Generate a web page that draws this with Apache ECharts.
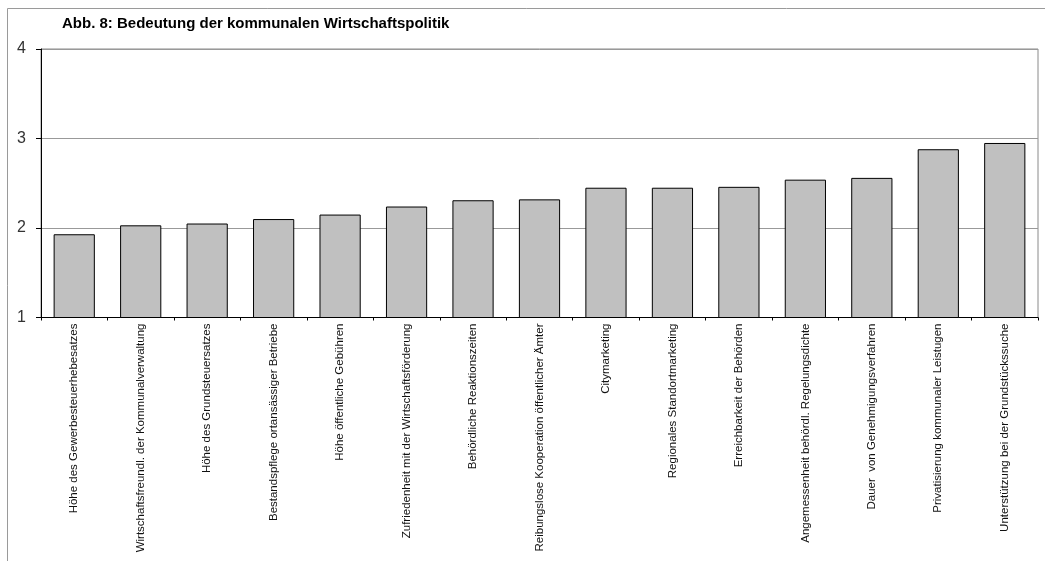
<!DOCTYPE html>
<html>
<head>
<meta charset="utf-8">
<script src="https://cdn.jsdelivr.net/npm/echarts@6/dist/echarts.min.js"></script>
<style>html,body{margin:0;padding:0;background:#fff}#c{width:1045px;height:561px}</style>
</head>
<body>
<div id="c"></div>
<script>
var titleText = 'Abb. 8: Bedeutung der kommunalen Wirtschaftspolitik';
var categories = [
  'Höhe des Gewerbesteuerhebesatzes',
  'Wirtschaftsfreundl. der Kommunalverwaltung',
  'Höhe des Grundsteuersatzes',
  'Bestandspflege ortansässiger Betriebe',
  'Höhe öffentliche Gebühren',
  'Zufriedenheit mit der Wirtschaftsförderung',
  'Behördliche Reaktionszeiten',
  'Reibungslose Kooperation öffentlicher Ämter',
  'Citymarketing',
  'Regionales Standortmarketing',
  'Erreichbarkeit der Behörden',
  'Angemessenheit behördl. Regelungsdichte',
  'Dauer  von Genehmigungsverfahren',
  'Privatisierung kommunaler Leistugen',
  'Unterstützung bei der Grundstückssuche'
];
var values = [1.93, 2.03, 2.05, 2.10, 2.15, 2.24, 2.31, 2.32, 2.45, 2.45, 2.46, 2.54, 2.56, 2.88, 2.95];
var yTicks = [1, 2, 3, 4];

var chart = echarts.init(document.getElementById('c'), null, {renderer: 'canvas'});
chart.setOption({
  animation: false,
  backgroundColor: '#fff',
  title: {
    text: titleText,
    left: 57, top: 11,
    textStyle: {fontFamily: 'Liberation Sans, Arial', fontWeight: 'bold', fontSize: 15, color: '#000'}
  },
  graphic: [{
    type: 'rect', silent: true,
    shape: {x: 7.5, y: 8.5, width: 1100, height: 600},
    style: {fill: null, stroke: '#9a9a9a', lineWidth: 1}
  }],
  grid: {
    left: 41, right: 7, top: 49, bottom: 243.5,
    show: true, borderColor: '#8a8a8a', borderWidth: 1, backgroundColor: 'transparent'
  },
  xAxis: {
    type: 'category',
    data: categories,
    axisLine: {lineStyle: {color: '#000', width: 1}},
    axisTick: {show: true, length: 3, lineStyle: {color: '#000'}},
    axisLabel: {
      rotate: 90, interval: 0, margin: 6,
      fontFamily: 'Liberation Sans, Arial', fontSize: 11.5, color: '#111'
    }
  },
  yAxis: {
    type: 'value', min: yTicks[0], max: yTicks[yTicks.length - 1], interval: 1,
    axisLine: {show: true, lineStyle: {color: '#000', width: 1}},
    axisTick: {show: true, length: 5, lineStyle: {color: '#000'}},
    axisLabel: {fontFamily: 'Liberation Sans, Arial', fontSize: 16, color: '#333', margin: 15},
    splitLine: {show: true, lineStyle: {color: '#999', width: 1}}
  },
  series: [{
    type: 'bar',
    data: values,
    barCategoryGap: '38%',
    itemStyle: {color: '#c0c0c0', borderColor: '#000', borderWidth: 1}
  }]
});
</script>
</body>
</html>
